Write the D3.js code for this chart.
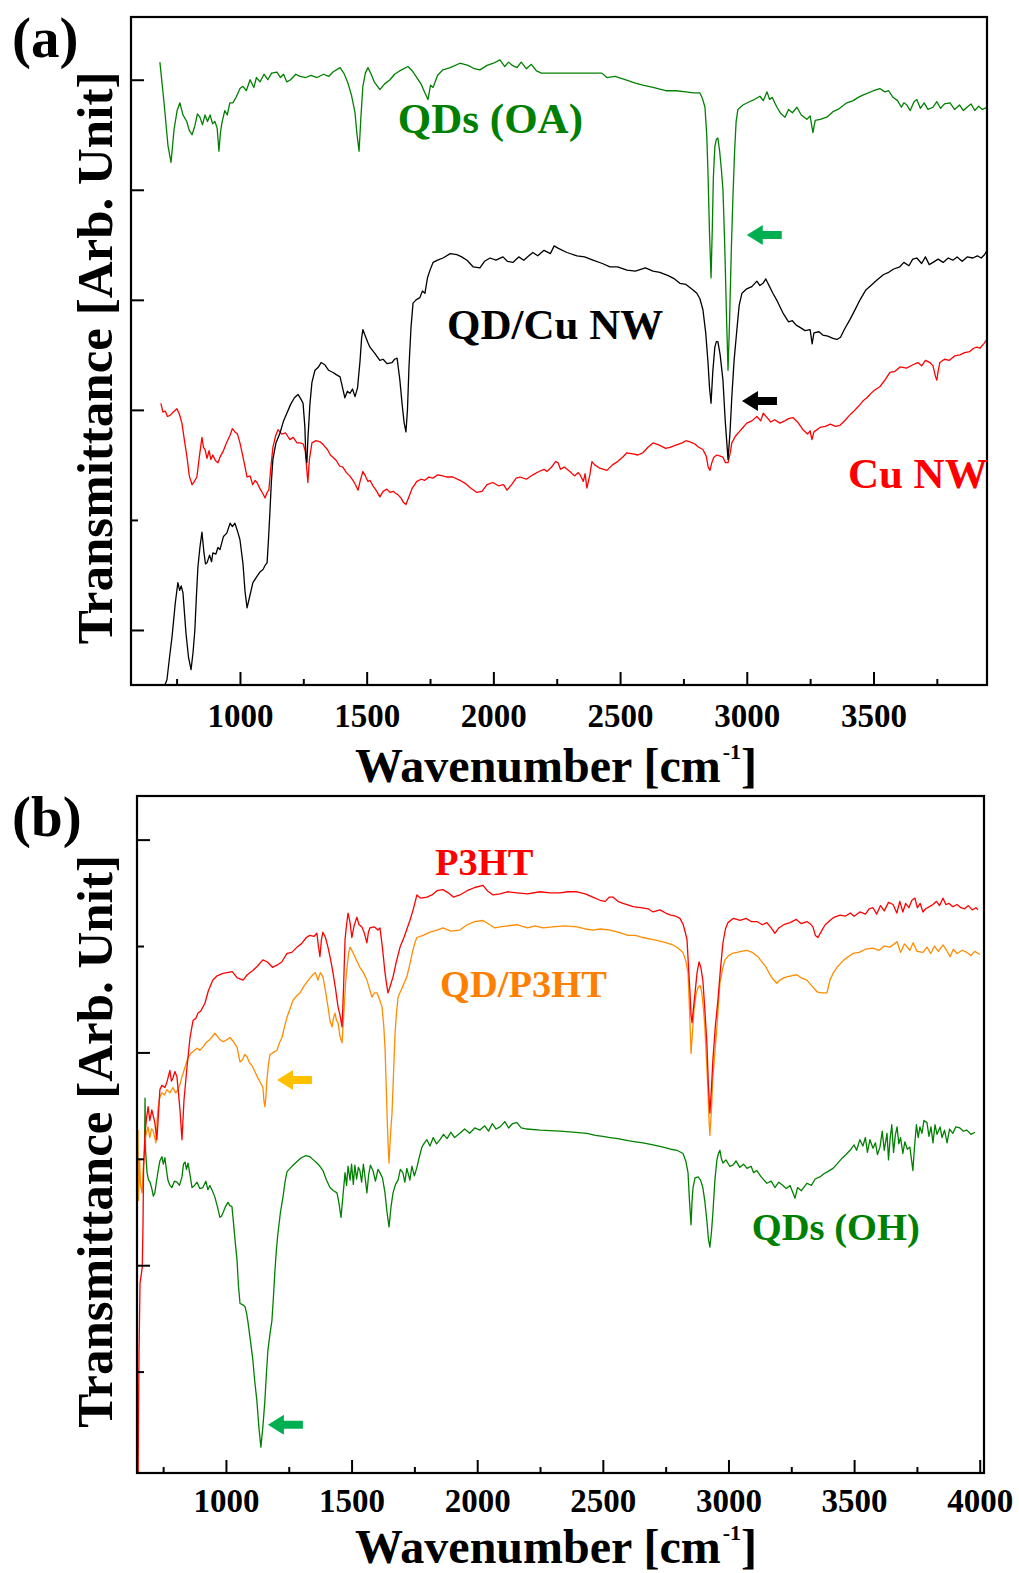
<!DOCTYPE html>
<html>
<head>
<meta charset="utf-8">
<script src="https://cdn.jsdelivr.net/npm/d3@7"></script>
<style>
  body { margin: 0; background: #fff; }
</style>
</head>
<body>
<div id="chart"></div>
<script>
// FTIR spectra: [wavenumber (cm-1), transmittance (arb. unit, offset)]

// panel (a)
var qdOA = [[684,61.6],[700,58.0],[716,54.0],[728,52.5],[740,55.5],[752,57.2],[763,57.9],[775,56.8],[790,56.2],[800,55.4],[811,55.0],[822,55.8],[832,56.9],[842,56.6],[852,55.9],[862,56.8],[872,56.2],[882,56.8],[892,56.0],[901,56.2],[910,55.6],[917,53.5],[923,55.2],[929,56.1],[940,57.2],[950,56.8],[960,57.9],[972,57.9],[985,58.4],[1000,59.2],[1012,59.4],[1025,59.0],[1040,60.0],[1055,59.3],[1065,60.2],[1079,59.8],[1095,60.5],[1110,60.0],[1125,60.6],[1146,60.7],[1160,60.2],[1172,60.5],[1185,59.8],[1200,60.0],[1220,60.5],[1237,60.3],[1260,60.2],[1280,60.4],[1304,60.2],[1330,60.5],[1350,60.3],[1367,60.7],[1395,61.1],[1410,60.6],[1426,59.7],[1440,58.6],[1454,57.0],[1462,55.0],[1470,53.5],[1477,56.5],[1485,59.4],[1495,60.6],[1505,61.1],[1518,60.5],[1530,59.8],[1552,59.1],[1570,59.6],[1592,60.0],[1610,60.5],[1630,60.8],[1663,61.2],[1680,60.8],[1698,60.2],[1715,59.6],[1730,58.8],[1742,58.2],[1752,59.5],[1762,59.3],[1780,60.4],[1801,60.9],[1830,61.1],[1868,61.5],[1900,61.3],[1925,61.0],[1947,60.9],[1975,61.3],[2000,61.5],[2026,61.8],[2045,61.2],[2060,61.6],[2075,61.3],[2093,61.1],[2110,61.6],[2130,61.0],[2150,61.4],[2170,60.8],[2190,60.6],[2211,60.6],[2428,60.6],[2448,60.2],[2480,60.3],[2520,60.0],[2560,59.7],[2590,59.5],[2630,59.3],[2680,59.0],[2720,59.0],[2760,58.9],[2790,58.8],[2815,58.8],[2825,58.3],[2835,57.5],[2842,55.0],[2847,51.5],[2853,46.0],[2859,42.0],[2864,46.5],[2868,51.0],[2874,53.9],[2880,54.6],[2886,54.7],[2893,53.5],[2900,51.8],[2906,50.0],[2913,45.0],[2920,38.5],[2926,33.6],[2932,38.0],[2939,44.5],[2945,49.1],[2952,53.5],[2958,56.2],[2965,57.3],[2985,57.7],[3010,58.0],[3030,58.2],[3052,58.5],[3065,58.1],[3080,58.9],[3090,58.2],[3100,58.4],[3119,57.5],[3135,56.9],[3151,56.6],[3165,57.3],[3180,57.0],[3198,57.5],[3215,56.8],[3237,56.4],[3250,56.7],[3261,55.2],[3270,56.3],[3290,56.4],[3316,56.6],[3340,57.1],[3360,57.3],[3395,57.9],[3420,58.1],[3440,58.4],[3458,58.6],[3480,58.8],[3500,59.0],[3525,59.2],[3545,58.9],[3560,59.0],[3577,58.4],[3595,58.1],[3610,57.5],[3620,57.9],[3632,57.7],[3645,57.2],[3660,58.0],[3671,58.2],[3685,57.4],[3700,57.9],[3715,57.3],[3735,57.5],[3750,58.0],[3765,57.4],[3780,57.8],[3802,57.9],[3820,57.3],[3840,57.7],[3855,57.2],[3869,57.5],[3885,57.8],[3900,57.2],[3915,57.6],[3930,57.3],[3948,57.5]];

var qdCuNW = [[690,2.0],[704,5.0],[712,5.5],[722,7.5],[732,9.4],[745,12.5],[755,14.3],[762,13.6],[768,14.0],[775,13.4],[787,9.7],[797,7.5],[807,6.4],[815,8.0],[822,10.0],[828,13.0],[834,15.7],[842,17.5],[850,18.9],[858,17.0],[864,16.0],[870,16.1],[880,16.8],[888,16.2],[893,17.0],[905,16.9],[913,17.5],[921,17.3],[935,18.5],[948,18.8],[961,19.7],[970,19.4],[980,19.7],[990,19.0],[1000,18.2],[1012,16.0],[1020,13.5],[1028,12.0],[1040,13.2],[1051,14.3],[1065,14.8],[1080,15.3],[1091,15.5],[1100,15.9],[1107,16.1],[1112,18.0],[1118,20.6],[1124,23.5],[1130,25.5],[1142,27.0],[1158,27.9],[1172,29.0],[1185,29.7],[1200,30.5],[1215,31.1],[1229,31.4],[1240,31.0],[1249,30.6],[1256,28.5],[1260,25.8],[1264,25.2],[1268,27.3],[1276,30.5],[1284,32.5],[1296,33.6],[1310,33.9],[1320,34.3],[1335,34.1],[1350,33.6],[1367,33.4],[1380,33.2],[1395,33.0],[1405,32.0],[1414,31.1],[1424,31.7],[1434,31.5],[1444,31.9],[1454,31.2],[1464,32.0],[1474,34.5],[1480,36.5],[1485,37.3],[1495,36.7],[1505,36.1],[1513,35.7],[1530,35.2],[1552,34.5],[1565,34.6],[1580,34.2],[1600,34.3],[1610,34.6],[1620,34.7],[1631,32.7],[1640,30.5],[1648,28.8],[1655,28.0],[1661,30.0],[1667,33.9],[1675,37.5],[1683,39.7],[1695,40.0],[1710,40.2],[1720,40.8],[1730,40.6],[1740,42.0],[1750,42.7],[1762,43.4],[1780,43.6],[1801,43.8],[1830,44.2],[1856,44.1],[1875,43.9],[1896,43.6],[1920,43.0],[1947,42.9],[1965,43.5],[1987,43.8],[2010,43.6],[2038,43.9],[2055,43.5],[2077,43.4],[2100,43.9],[2120,43.6],[2140,44.0],[2156,44.3],[2175,44.0],[2200,44.5],[2225,44.2],[2240,44.9],[2255,44.7],[2290,44.3],[2330,44.0],[2360,43.9],[2393,43.6],[2430,43.3],[2460,43.0],[2490,43.0],[2527,42.7],[2560,42.6],[2600,42.9],[2630,42.6],[2657,42.5],[2690,42.2],[2715,41.9],[2736,41.5],[2760,41.4],[2788,40.9],[2803,40.6],[2815,40.1],[2827,39.1],[2838,37.0],[2847,34.3],[2853,32.0],[2859,30.6],[2866,33.5],[2874,35.7],[2880,36.2],[2886,36.2],[2895,35.0],[2906,32.7],[2915,29.0],[2926,25.5],[2934,28.0],[2941,31.2],[2950,34.5],[2961,37.3],[2970,39.5],[2981,40.6],[3000,41.0],[3020,41.2],[3040,41.7],[3052,41.3],[3064,41.5],[3075,41.9],[3090,41.2],[3103,40.6],[3120,39.9],[3143,38.8],[3165,38.0],[3180,38.1],[3195,37.7],[3210,37.5],[3230,37.2],[3250,37.3],[3258,36.0],[3265,37.0],[3285,37.1],[3300,36.8],[3320,36.7],[3340,36.5],[3356,36.4],[3370,36.6],[3385,37.3],[3407,38.2],[3425,39.0],[3447,40.0],[3470,40.9],[3490,41.3],[3514,41.8],[3540,42.3],[3560,42.5],[3580,42.8],[3604,43.0],[3620,43.4],[3640,43.1],[3655,43.7],[3671,43.8],[3690,43.3],[3705,43.9],[3720,43.2],[3735,43.4],[3755,43.7],[3775,43.4],[3795,43.8],[3813,43.6],[3830,43.9],[3850,43.5],[3870,43.9],[3892,43.8],[3910,44.0],[3925,43.8],[3938,44.1],[3948,44.5]];

var cuNW = [[688,30.6],[696,29.8],[705,29.9],[714,29.4],[724,29.5],[737,29.8],[751,30.1],[761,29.6],[771,28.8],[781,27.2],[791,25.7],[800,24.0],[811,23.2],[820,23.5],[830,23.9],[840,25.8],[850,27.5],[856,26.6],[862,26.4],[870,25.6],[878,26.3],[885,25.5],[893,25.9],[903,25.4],[913,25.2],[923,25.8],[933,26.2],[945,26.9],[953,27.3],[961,27.7],[970,28.3],[980,28.0],[990,27.8],[1000,27.0],[1014,25.5],[1028,23.9],[1040,24.0],[1050,23.2],[1060,23.6],[1067,23.4],[1080,22.8],[1090,22.4],[1099,22.0],[1107,22.5],[1114,22.7],[1122,24.8],[1130,26.6],[1140,27.6],[1150,28.2],[1165,27.8],[1180,27.9],[1197,27.3],[1210,27.5],[1225,27.0],[1237,27.0],[1250,26.9],[1258,26.2],[1264,24.5],[1268,23.4],[1274,25.5],[1284,27.0],[1300,27.2],[1316,27.1],[1330,26.8],[1345,26.4],[1357,25.9],[1367,25.7],[1380,25.4],[1393,24.9],[1406,24.8],[1420,24.3],[1433,24.0],[1446,23.6],[1456,23.2],[1466,22.7],[1475,23.6],[1485,24.4],[1495,24.0],[1505,23.5],[1513,23.6],[1525,23.1],[1540,22.6],[1552,22.1],[1565,22.6],[1580,22.8],[1592,22.5],[1605,22.6],[1615,22.4],[1623,22.3],[1635,22.0],[1645,21.6],[1655,21.4],[1665,22.0],[1680,22.9],[1698,23.5],[1715,23.7],[1730,23.6],[1745,23.9],[1762,23.8],[1780,24.1],[1800,24.0],[1817,23.9],[1840,23.9],[1868,23.6],[1890,23.3],[1910,22.9],[1935,22.5],[1955,22.6],[1975,23.2],[1998,23.4],[2020,23.1],[2040,23.2],[2054,22.7],[2075,23.3],[2090,23.8],[2105,23.9],[2130,23.7],[2156,24.1],[2180,24.4],[2200,24.6],[2211,24.4],[2230,24.8],[2245,25.3],[2255,25.2],[2265,24.6],[2280,24.8],[2302,24.4],[2320,24.0],[2335,24.3],[2342,24.1],[2355,23.5],[2362,24.2],[2369,22.9],[2380,24.0],[2389,25.3],[2400,25.0],[2420,24.7],[2448,24.5],[2470,25.0],[2490,25.3],[2510,25.7],[2527,26.1],[2550,26.0],[2570,25.9],[2590,26.1],[2610,26.6],[2630,27.0],[2655,26.8],[2680,26.5],[2697,26.6],[2720,26.8],[2745,27.0],[2760,27.2],[2776,27.1],[2795,26.9],[2810,26.6],[2827,26.4],[2840,25.8],[2848,24.8],[2855,24.5],[2862,25.2],[2870,25.7],[2882,25.9],[2895,25.8],[2906,25.7],[2916,25.2],[2926,25.2],[2934,26.0],[2941,27.0],[2955,27.6],[2970,28.0],[2985,28.4],[3000,28.8],[3020,29.0],[3040,29.4],[3055,29.0],[3065,29.7],[3080,29.3],[3095,28.9],[3110,29.1],[3131,28.8],[3150,29.0],[3165,29.2],[3182,29.3],[3200,28.9],[3222,28.2],[3240,27.8],[3250,28.1],[3257,27.3],[3265,28.0],[3289,28.4],[3310,28.5],[3330,28.7],[3350,28.5],[3368,28.6],[3390,29.1],[3405,29.5],[3419,29.8],[3440,30.3],[3458,30.8],[3474,31.1],[3490,31.5],[3505,31.8],[3525,32.1],[3545,32.7],[3565,33.4],[3585,33.5],[3605,33.9],[3630,33.8],[3656,34.1],[3675,34.3],[3690,34.0],[3705,34.5],[3723,34.3],[3735,34.0],[3745,33.0],[3750,32.7],[3755,33.5],[3762,34.3],[3780,34.6],[3800,34.5],[3820,34.9],[3841,35.0],[3860,35.2],[3880,35.3],[3895,35.6],[3908,35.7],[3920,35.6],[3935,36.0],[3948,36.4]];

// panel (b)
var p3ht = [[650,-2],[652,6.0],[654,11.7],[658,18.3],[667,19.8],[670,24.0],[672,28.9],[678,32.4],[684,33.8],[690,34.9],[697,33.6],[705,34.6],[711,34.0],[717,33.4],[725,31.8],[731,34.0],[737,36.5],[745,36.9],[757,36.7],[765,37.2],[777,38.3],[783,37.3],[789,37.6],[797,38.2],[805,37.7],[811,36.2],[817,34.6],[825,31.8],[833,35.5],[845,38.6],[857,41.4],[869,43.0],[880,43.2],[889,43.7],[900,43.9],[916,44.6],[930,45.8],[948,46.8],[965,47.2],[985,47.4],[1004,47.5],[1025,47.6],[1045,47.0],[1068,46.8],[1085,47.3],[1107,47.7],[1125,48.1],[1147,48.7],[1165,48.5],[1185,48.0],[1203,48.2],[1222,48.5],[1243,49.3],[1262,49.4],[1283,49.9],[1300,50.2],[1320,50.8],[1334,51.0],[1350,50.9],[1362,51.2],[1368,50.0],[1374,49.0],[1380,50.6],[1386,51.3],[1396,50.8],[1406,49.9],[1416,48.8],[1426,47.5],[1436,46.0],[1446,44.3],[1454,43.5],[1462,42.4],[1468,46.0],[1474,50.6],[1480,52.0],[1486,53.1],[1494,52.2],[1501,50.8],[1510,51.9],[1521,52.7],[1530,52.0],[1541,51.8],[1551,51.2],[1561,50.3],[1567,51.3],[1573,51.7],[1590,51.8],[1605,51.5],[1613,51.7],[1623,49.8],[1633,47.5],[1640,46.3],[1645,45.6],[1652,46.1],[1665,47.1],[1678,48.5],[1693,49.9],[1710,50.9],[1732,52.4],[1745,53.4],[1760,54.8],[1775,54.5],[1800,54.6],[1820,54.8],[1840,55.2],[1864,55.3],[1885,55.0],[1905,54.6],[1931,54.8],[1960,55.2],[1990,55.5],[2023,55.7],[2040,55.2],[2063,54.8],[2090,54.9],[2120,55.1],[2158,55.0],[2200,54.9],[2250,55.1],[2290,55.0],[2329,55.0],[2360,55.1],[2397,55.1],[2430,54.9],[2460,54.6],[2489,54.3],[2510,54.2],[2525,54.6],[2540,54.6],[2560,54.2],[2580,54.0],[2596,53.9],[2620,53.7],[2650,53.6],[2680,53.5],[2700,53.2],[2727,53.4],[2750,53.1],[2770,52.9],[2790,52.8],[2807,52.6],[2820,52.0],[2829,51.2],[2835,50.6],[2841,48.0],[2847,45.6],[2851,43.5],[2855,42.8],[2860,44.0],[2867,45.6],[2875,47.5],[2883,48.5],[2890,48.0],[2898,46.8],[2906,44.0],[2914,40.9],[2920,37.0],[2926,34.3],[2932,36.5],[2938,39.3],[2948,42.5],[2958,44.9],[2968,47.8],[2978,50.3],[2988,51.6],[2998,52.2],[3020,52.6],[3046,52.4],[3070,52.6],[3090,52.3],[3113,52.3],[3135,52.0],[3153,52.2],[3170,51.7],[3185,51.2],[3200,51.7],[3220,52.0],[3245,52.2],[3270,52.5],[3290,52.1],[3312,52.3],[3325,52.1],[3336,51.8],[3346,51.0],[3356,50.8],[3370,51.4],[3385,52.0],[3404,52.4],[3420,52.7],[3444,52.9],[3465,52.8],[3485,53.1],[3500,52.8],[3523,53.2],[3545,53.0],[3560,53.5],[3575,53.6],[3590,53.0],[3605,53.8],[3620,53.3],[3637,54.1],[3655,53.9],[3670,53.1],[3682,54.2],[3694,53.2],[3705,54.0],[3718,53.6],[3730,54.3],[3742,54.5],[3752,53.6],[3763,54.0],[3774,53.2],[3785,53.5],[3800,53.7],[3814,53.9],[3828,54.2],[3840,53.8],[3854,54.5],[3865,53.9],[3878,54.0],[3893,53.7],[3910,53.9],[3925,53.6],[3940,53.5],[3955,53.8],[3970,53.4],[3985,53.6],[3993,53.4]];

var qdP3ht = [[648,26.0],[650,32.7],[652,26.1],[656,30.0],[660,27.5],[666,26.8],[672,29.5],[678,31.8],[684,32.5],[690,33.0],[697,32.0],[703,32.8],[709,32.7],[715,32.2],[721,31.5],[729,34.6],[737,35.8],[745,36.2],[755,36.0],[765,36.5],[777,36.2],[789,36.7],[800,36.2],[809,36.5],[817,37.0],[825,37.7],[837,38.6],[849,39.5],[860,39.9],[870,40.1],[885,40.4],[896,40.2],[908,40.5],[920,40.9],[935,41.2],[946,41.5],[956,41.8],[966,41.5],[976,41.2],[990,41.0],[1004,41.2],[1016,41.4],[1030,41.0],[1044,40.5],[1050,39.8],[1056,39.1],[1066,39.3],[1075,39.8],[1084,39.6],[1094,39.0],[1103,38.8],[1115,38.2],[1127,37.6],[1137,37.2],[1147,36.7],[1151,35.5],[1155,34.9],[1159,35.8],[1163,37.4],[1169,38.8],[1175,39.8],[1189,40.0],[1203,40.2],[1213,40.9],[1223,41.4],[1233,42.4],[1243,43.3],[1255,44.1],[1267,44.9],[1281,45.3],[1295,45.6],[1310,46.2],[1325,46.7],[1335,47.0],[1346,47.3],[1356,47.5],[1366,46.8],[1376,47.5],[1386,47.1],[1396,45.8],[1406,44.3],[1414,43.0],[1422,42.4],[1428,43.2],[1434,43.7],[1440,43.0],[1446,42.8],[1454,41.5],[1462,40.9],[1470,44.0],[1476,46.5],[1482,48.0],[1488,49.3],[1494,49.9],[1503,49.5],[1513,49.0],[1523,48.5],[1533,48.0],[1547,47.5],[1561,46.8],[1571,46.0],[1581,45.2],[1591,45.6],[1601,45.6],[1611,45.0],[1621,44.3],[1628,42.5],[1633,40.5],[1637,37.5],[1641,34.3],[1645,31.5],[1649,29.6],[1653,31.5],[1657,33.0],[1661,34.3],[1667,38.0],[1673,41.8],[1679,43.8],[1685,45.2],[1700,46.0],[1720,47.1],[1732,48.3],[1744,49.6],[1752,50.3],[1760,50.8],[1785,51.0],[1812,51.3],[1840,51.5],[1864,51.7],[1895,51.4],[1931,51.5],[1960,52.0],[1990,52.3],[2023,52.4],[2050,52.0],[2070,51.7],[2091,51.8],[2120,51.9],[2158,52.0],[2200,51.7],[2230,51.9],[2262,51.7],[2300,51.8],[2350,51.9],[2397,51.8],[2430,51.6],[2461,51.5],[2490,51.6],[2528,51.5],[2560,51.3],[2600,51.0],[2630,51.0],[2660,50.8],[2700,50.6],[2740,50.4],[2779,50.1],[2800,49.8],[2819,49.4],[2830,48.6],[2839,47.5],[2845,44.0],[2851,39.9],[2857,42.0],[2863,44.0],[2871,45.5],[2879,46.1],[2887,46.3],[2894,45.6],[2900,44.2],[2906,42.4],[2912,39.5],[2918,36.7],[2922,34.0],[2926,32.2],[2932,34.5],[2938,37.7],[2946,40.0],[2954,42.4],[2960,44.5],[2966,46.5],[2976,47.8],[2986,48.7],[3000,49.1],[3015,49.3],[3034,49.4],[3050,49.5],[3074,49.6],[3095,49.4],[3117,49.0],[3137,48.4],[3150,48.0],[3165,47.3],[3180,46.8],[3193,46.5],[3205,46.8],[3220,47.0],[3232,47.1],[3250,47.2],[3272,47.3],[3290,47.0],[3312,46.8],[3330,46.3],[3352,45.7],[3370,45.6],[3392,45.6],[3398,46.2],[3404,46.8],[3418,47.5],[3432,48.0],[3460,48.7],[3495,49.3],[3520,49.4],[3545,49.7],[3575,49.8],[3600,49.6],[3620,50.0],[3643,49.9],[3660,50.2],[3671,50.4],[3685,49.4],[3700,50.2],[3722,49.6],[3735,50.3],[3750,49.5],[3774,49.4],[3790,49.9],[3805,49.3],[3820,50.0],[3835,49.5],[3854,50.1],[3868,49.6],[3882,49.0],[3895,49.7],[3910,49.3],[3930,49.6],[3949,49.4],[3965,49.1],[3980,49.5],[4001,49.2]];

var qdOH = [[676,31.0],[678,35.7],[680,30.8],[686,28.7],[692,28.0],[698,27.8],[705,27.2],[711,26.5],[717,26.8],[723,27.8],[729,28.7],[737,29.8],[745,30.2],[751,29.5],[757,30.1],[763,29.0],[769,28.0],[777,27.5],[785,27.3],[795,27.9],[805,27.8],[815,27.5],[825,28.3],[831,29.5],[837,29.7],[843,29.0],[849,29.6],[857,28.5],[865,27.3],[875,27.5],[885,27.8],[896,27.2],[908,27.3],[920,27.9],[928,27.1],[936,27.5],[946,27.0],[956,26.4],[966,25.5],[976,24.5],[982,24.6],[988,24.9],[998,25.5],[1008,25.9],[1016,25.6],[1024,25.5],[1030,24.0],[1036,22.4],[1044,20.5],[1050,18.0],[1056,16.4],[1066,16.3],[1076,16.1],[1082,15.5],[1088,14.6],[1098,12.8],[1107,11.1],[1115,9.0],[1123,7.3],[1131,4.8],[1139,2.9],[1147,4.8],[1155,7.3],[1161,9.8],[1167,12.0],[1175,13.5],[1183,14.8],[1189,17.0],[1195,19.5],[1201,21.5],[1207,23.0],[1217,25.0],[1227,26.4],[1235,27.8],[1243,28.8],[1255,29.1],[1267,29.4],[1285,29.8],[1300,30.1],[1318,30.3],[1334,30.2],[1348,29.9],[1362,29.6],[1374,29.3],[1386,28.9],[1400,28.0],[1414,27.3],[1428,27.0],[1442,26.8],[1450,25.8],[1458,24.5],[1466,26.6],[1474,28.7],[1480,27.5],[1486,29.3],[1494,28.0],[1500,29.5],[1507,27.6],[1513,29.4],[1520,28.1],[1527,29.2],[1533,28.9],[1540,27.8],[1547,29.5],[1554,28.2],[1561,26.8],[1568,28.5],[1575,29.4],[1585,28.9],[1595,27.9],[1605,29.0],[1613,28.7],[1623,28.2],[1633,26.8],[1641,25.0],[1649,23.6],[1657,25.5],[1665,26.8],[1675,27.6],[1685,28.0],[1694,29.0],[1704,28.7],[1712,27.8],[1720,29.1],[1732,28.0],[1740,29.3],[1750,28.4],[1760,29.2],[1770,30.2],[1780,31.1],[1790,31.5],[1800,31.8],[1812,31.2],[1825,32.0],[1838,31.4],[1852,31.8],[1866,32.3],[1880,31.9],[1895,32.5],[1910,32.0],[1931,32.4],[1950,32.8],[1970,32.4],[1990,32.9],[2011,32.7],[2030,33.1],[2045,32.6],[2060,33.3],[2075,32.8],[2091,33.0],[2110,33.5],[2125,32.9],[2140,33.3],[2158,33.4],[2175,32.9],[2198,32.8],[2250,32.7],[2329,32.6],[2380,32.5],[2437,32.4],[2470,32.2],[2500,32.1],[2528,32.0],[2560,31.9],[2600,31.7],[2630,31.6],[2660,31.5],[2700,31.3],[2740,31.1],[2770,30.9],[2795,30.8],[2819,30.5],[2830,29.8],[2839,28.7],[2845,26.0],[2851,23.8],[2855,26.0],[2859,27.3],[2867,28.2],[2879,28.3],[2889,28.0],[2898,27.3],[2906,26.0],[2914,24.2],[2920,22.5],[2926,21.7],[2932,23.0],[2938,24.9],[2946,28.0],[2954,29.9],[2960,30.5],[2966,30.8],[2972,30.0],[2978,29.6],[2990,29.9],[3005,29.3],[3018,29.4],[3030,29.8],[3045,29.2],[3060,29.5],[3074,29.1],[3090,29.3],[3100,28.7],[3113,28.9],[3130,28.3],[3153,27.7],[3170,27.9],[3185,27.3],[3200,27.8],[3217,27.5],[3230,27.2],[3245,27.5],[3255,26.9],[3265,26.3],[3275,27.3],[3290,27.0],[3312,27.7],[3330,27.5],[3345,28.1],[3364,28.3],[3380,28.6],[3395,28.8],[3416,29.1],[3435,29.6],[3450,30.0],[3468,30.4],[3484,30.8],[3500,31.3],[3510,30.8],[3523,31.8],[3535,31.2],[3545,32.0],[3553,30.6],[3563,31.8],[3575,31.0],[3585,31.5],[3593,30.4],[3603,31.1],[3612,32.6],[3620,30.8],[3631,32.4],[3637,29.9],[3643,31.8],[3650,33.2],[3657,30.6],[3664,32.2],[3671,33.0],[3678,31.4],[3685,32.0],[3694,30.5],[3702,31.6],[3712,30.9],[3722,31.1],[3728,30.0],[3734,28.9],[3740,31.0],[3748,33.2],[3755,32.0],[3762,33.0],[3770,32.4],[3778,33.6],[3790,33.4],[3798,32.1],[3806,33.0],[3814,31.5],[3822,33.2],[3830,32.3],[3842,33.0],[3850,32.0],[3860,32.7],[3870,31.5],[3880,32.8],[3893,32.4],[3905,33.0],[3921,32.9],[3935,32.6],[3949,32.7],[3965,32.3],[3981,32.5]];

// axis ticks
var xMajorA = [1000, 1500, 2000, 2500, 3000, 3500];
var xMajorB = [1000, 1500, 2000, 2500, 3000, 3500, 4000];
var xMinor = [750, 1250, 1750, 2250, 2750, 3250, 3750];
var yMajorA = [10, 30, 40, 50, 60];
var yMinorA = [20];
var yMajorB = [20, 40, 60];
var yMinorB = [10, 30, 50];

// curve labels and arrows: [text, wavenumber, value]
var labelsA = [["QDs (OA)", 1623, 55.2, "green"], ["QD/Cu NW", 1817, 36.4, "black"], ["Cu NW", 3399, 22.9, "red"]];
var labelsB = [["P3HT", 1832, 56.7, "red"], ["QD/P3HT", 1852, 45.2, "orange"], ["QDs (OH)", 3093, 22.4, "green"]];
var arrowsA = [[3000, 45.9, "arrowGreen"], [2981, 30.8, "black"]];
var arrowsB = [[1203, 37.4, "arrowYellow"], [1167, 5.0, "arrowGreen"]];

var colors = {
  green: "#008000", black: "#000000", red: "#ff0000", orange: "#ff8000",
  traceOrange: "#ff8c00", arrowGreen: "#00b050", arrowYellow: "#ffc000"
};
var serif = "'Liberation Serif','Times New Roman',Times,serif";

var svg = d3.select("#chart").append("svg")
  .attr("width", 1019)
  .attr("height", 1573);

var panels = [
  { id: "a", tag: "(a)", left: 131, right: 987, top: 17, bottom: 685,
    xDomain: [570, 3948], yDomain: [5, 65.7], tickPad: 19, titleGap: 97,
    xMajor: xMajorA, yMajor: yMajorA, yMinor: yMinorA, labelSize: 43,
    series: [[qdOA, colors.green], [cuNW, colors.red], [qdCuNW, colors.black]],
    labels: labelsA, arrows: arrowsA },
  { id: "b", tag: "(b)", left: 137, right: 984, top: 796, bottom: 1473,
    xDomain: [646, 4017], yDomain: [0.47, 64.1], tickPad: 16, titleGap: 89.5,
    xMajor: xMajorB, yMajor: yMajorB, yMinor: yMinorB, labelSize: 38.5,
    series: [[qdOH, colors.green], [qdP3ht, colors.traceOrange], [p3ht, colors.red]],
    labels: labelsB, arrows: arrowsB }
];

panels.forEach(function(p) {
  var x = d3.scaleLinear().domain(p.xDomain).range([p.left, p.right]);
  var y = d3.scaleLinear().domain(p.yDomain).range([p.bottom, p.top]);
  var g = svg.append("g");

  g.append("clipPath").attr("id", "clip-" + p.id)
    .append("rect")
      .attr("x", p.left).attr("y", p.top)
      .attr("width", p.right - p.left).attr("height", p.bottom - p.top);

  var line = d3.line()
    .x(function(d) { return x(d[0]); })
    .y(function(d) { return y(d[1]); });

  // spectra
  p.series.forEach(function(s) {
    g.append("path")
      .datum(s[0])
      .attr("clip-path", "url(#clip-" + p.id + ")")
      .attr("fill", "none")
      .attr("stroke", s[1])
      .attr("stroke-width", 1.3)
      .attr("stroke-linejoin", "round")
      .attr("d", line);
  });

  // bottom axis, ticks pointing inward
  var xAxis = g.append("g")
    .attr("transform", "translate(0," + p.bottom + ")")
    .call(d3.axisBottom(x).tickValues(p.xMajor).tickSizeInner(-13).tickSizeOuter(0)
      .tickPadding(p.tickPad).tickFormat(d3.format("d")));
  g.append("g")
    .attr("transform", "translate(0," + p.bottom + ")")
    .call(d3.axisBottom(x).tickValues(xMinor).tickSizeInner(-6).tickSizeOuter(0).tickFormat(""))
    .select(".domain").remove();
  xAxis.select(".domain").remove();
  xAxis.selectAll("text")
    .attr("font-family", serif)
    .attr("font-size", 33)
    .attr("font-weight", "bold")
    .attr("fill", "#000");

  // left axis, no labels
  g.append("g")
    .attr("transform", "translate(" + p.left + ",0)")
    .call(d3.axisLeft(y).tickValues(p.yMajor).tickSizeInner(-13).tickSizeOuter(0).tickFormat(""))
    .select(".domain").remove();
  g.append("g")
    .attr("transform", "translate(" + p.left + ",0)")
    .call(d3.axisLeft(y).tickValues(p.yMinor).tickSizeInner(-7).tickSizeOuter(0).tickFormat(""))
    .select(".domain").remove();
  g.selectAll(".tick line").attr("stroke", "#000").attr("stroke-width", 2);

  // frame
  g.append("rect")
    .attr("x", p.left).attr("y", p.top)
    .attr("width", p.right - p.left).attr("height", p.bottom - p.top)
    .attr("fill", "none").attr("stroke", "#000").attr("stroke-width", 2.2);

  // axis titles
  var xt = g.append("text")
    .attr("x", 355).attr("y", p.bottom + p.titleGap)
    .attr("font-family", serif).attr("font-weight", "bold")
    .attr("font-size", 48).attr("fill", "#000");
  xt.append("tspan").text("Wavenumber [cm");
  xt.append("tspan").attr("font-size", 22).attr("dy", -23).attr("dx", 2).text("-1");
  xt.append("tspan").attr("dy", 23).text("]");

  g.append("text")
    .attr("transform", "translate(112," + ((p.top + p.bottom) / 2 + 7) + ") rotate(-90)")
    .attr("text-anchor", "middle")
    .attr("font-family", serif).attr("font-weight", "bold")
    .attr("font-size", 51).attr("fill", "#000")
    .text("Transmittance [Arb. Unit]");

  g.append("text")
    .attr("x", 12).attr("y", p.top + 40)
    .attr("font-family", serif).attr("font-weight", "bold")
    .attr("font-size", 57).attr("fill", "#000")
    .text(p.tag);

  // curve labels
  p.labels.forEach(function(l) {
    g.append("text")
      .attr("x", x(l[1])).attr("y", y(l[2]))
      .attr("font-family", serif).attr("font-weight", "bold")
      .attr("font-size", p.labelSize).attr("fill", colors[l[3]])
      .text(l[0]);
  });

  // arrows pointing left
  p.arrows.forEach(function(a) {
    g.append("path")
      .attr("transform", "translate(" + x(a[0]) + "," + y(a[1]) + ")")
      .attr("d", "M0,0L16,-10L16,-4L35,-4L35,4L16,4L16,10Z")
      .attr("fill", colors[a[2]]);
  });
});
</script>
</body>
</html>
